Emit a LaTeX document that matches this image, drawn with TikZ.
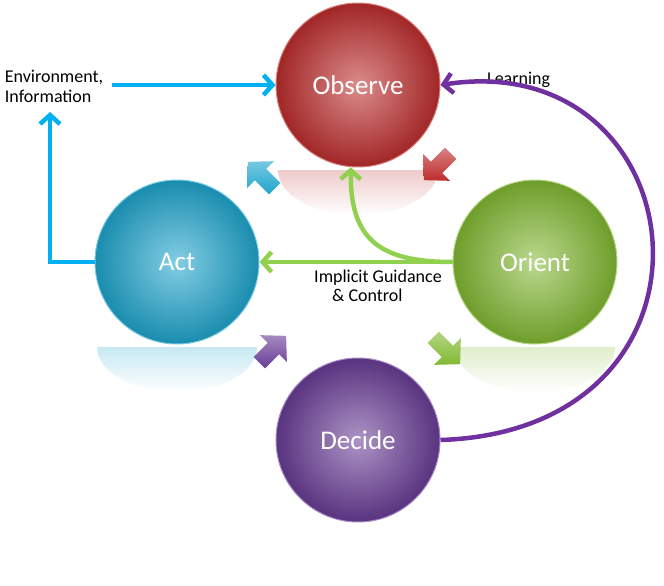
\documentclass[tikz,border=0pt]{standalone}
\usepackage{fontspec}
\setmainfont{Carlito}
\usetikzlibrary{arrows.meta,fadings}
\definecolor{cRed}{RGB}{190,45,45}
\definecolor{cGreen}{RGB}{130,185,50}
\definecolor{cPurple}{RGB}{105,60,150}
\definecolor{cBlue}{RGB}{30,165,205}
\definecolor{lBlue}{RGB}{0,176,240}
\definecolor{lPurple}{RGB}{112,48,160}
\definecolor{lGreen}{RGB}{146,208,80}
\tikzset{
  ball/.style={circle,minimum size=164pt,inner sep=0pt,shading=radial,inner color=#1!55!white,outer color=#1!85!black,draw=#1!60!white,line width=1pt,text=white,font=\fontsize{27}{30}\selectfont},
  refl/.style={fill=#1,fill opacity=0.25,path fading=south},
  conn/.style={line width=4.5pt,draw=#1,-{Straight Barb[length=9pt,width=20pt,line width=4.5pt]}},
  lbl/.style={font=\fontsize{18}{20}\selectfont,align=left,inner sep=1pt},
  barrow/.style={shading=axis,top color=#1!60!white,bottom color=#1,shading angle=0,draw=none}
}
\newcommand{\blockarrow}[4]{% x y angle color
  \path[barrow=#4,shift={(#1,#2)},rotate=#3] (-18,-8) -- (2,-8) -- (2,-19) -- (20,0) -- (2,19) -- (2,8) -- (-18,8) -- cycle;}
\begin{document}
\begin{tikzpicture}[x=1pt,y=-1pt]
\useasboundingbox (0,0) rectangle (664,586);
% reflections
\fill[refl=cRed] (278,170) arc(180:0:80 and 45) -- cycle;
\fill[refl=cGreen] (455,347) arc(180:0:80 and 45) -- cycle;
\fill[refl=cBlue] (97,347) arc(180:0:80 and 45) -- cycle;
% circles
\node[ball=cRed] (obs) at (358,85) {Observe};
\node[ball=cGreen] (ori) at (535,262) {Orient};
\node[ball=cPurple] (dec) at (358,440) {Decide};
\node[ball=cBlue] (act) at (177,262) {Act};
% block arrows
\blockarrow{438}{166}{225}{cRed}
\blockarrow{446}{350}{315}{cGreen}
\blockarrow{272}{350}{45}{cPurple}
\blockarrow{262}{176}{135}{cBlue}
% labels
\node[lbl] (env) at (54,86) {Environment,\\Information};
\node[lbl,anchor=west] (learn) at (486,80) {Learning};
\node[lbl] (igc) at (378,286) {Implicit Guidance\\[-1pt]\hspace*{1em}\& Control};
\coordinate (envtop) at (50,112);
% connectors
\draw[conn=lBlue] (act.west) -- (50,262) -- (envtop);
\draw[conn=lBlue] (112,85) -- (obs.west);
\draw[conn=lPurple] (dec.east) .. controls (745,430) and (700,45) .. (obs.east);
\draw[conn=lGreen] (ori.west) -- (act.east);
\draw[conn=lGreen] (ori.west) .. controls (380,262) and (350,240) .. (obs.-95);
\end{tikzpicture}
\end{document}
